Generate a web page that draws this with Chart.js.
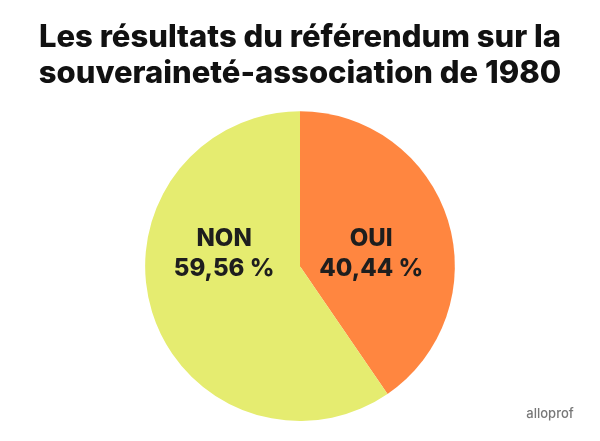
<!DOCTYPE html>
<html>
<head>
<meta charset="utf-8">
<script src="https://cdn.jsdelivr.net/npm/chart.js@4.4.1/dist/chart.umd.min.js"></script>
<style>
  html, body { margin: 0; padding: 0; background: #ffffff; }
  #wrap { width: 600px; height: 441px; }
</style>
</head>
<body>
<div id="wrap"><canvas id="pie"></canvas></div>
<script>
const labels = ['OUI', 'NON'];
const values = [40.44, 59.56];
const valueLabels = ['40,44 %', '59,56 %'];
const colours = ['#ff8640', '#e5ec70'];

// draws "OUI / 40,44 %" style labels inside each slice, plus the small logo
const sliceLabels = {
    id: 'slice_labels',
    afterDatasetsDraw: (chart) => {
        const ctx = chart.ctx;
        const arcs = chart.getDatasetMeta(0).data;
        ctx.save();
        ctx.fillStyle = '#1e1e1e';
        ctx.textAlign = 'center';
        ctx.textBaseline = 'middle';
        ctx.font = '800 24px Inter, "Noto Sans", sans-serif';
        arcs.forEach((arc, i) => {
            const r = arc.outerRadius;
            const side = i === 0 ? 1 : -1;
            const x = arc.x + side * r * (i === 0 ? 0.46 : 0.49);
            ctx.fillText(labels[i], x, arc.y - r * 0.175);
            ctx.fillText(valueLabels[i], x, arc.y + r * 0.02);
        });
        ctx.fillStyle = '#777777';
        ctx.font = '500 13px Inter, "Noto Sans", sans-serif';
        ctx.fillText('alloprof', 550, 414);
        ctx.restore();
    }
};

new Chart(document.getElementById('pie'), {
    type: 'pie',
    data: {
        labels: labels,
        datasets: [{
            data: values,
            backgroundColor: colours,
            borderWidth: 0
        }]
    },
    options: {
        responsive: true,
        maintainAspectRatio: false,
        animation: false,
        layout: { padding: { bottom: 20 } },
        plugins: {
            legend: { display: false },
            tooltip: { enabled: false },
            title: {
                display: true,
                text: ['Les résultats du référendum sur la', 'souveraineté-association de 1980'],
                color: '#111111',
                font: { family: 'Inter, "Noto Sans", sans-serif', size: 31, weight: '800', lineHeight: 1.15 },
                padding: { top: 20, bottom: 20 }
            }
        }
    },
    plugins: [sliceLabels]
});
</script>
</body>
</html>
